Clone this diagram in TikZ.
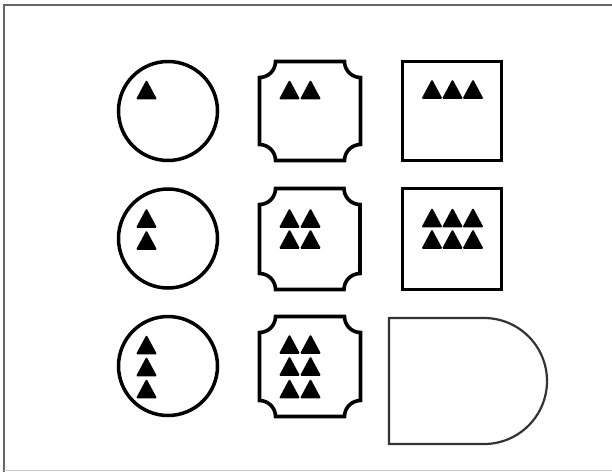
\documentclass[tikz,border=0pt]{standalone}
\usetikzlibrary{calc}
\tikzset{
  ring/.style={circle, draw=black, line width=3.5pt, inner sep=0pt, minimum size=99pt},
  notchline/.style={draw=black, line width=3.6pt},
  sqline/.style={draw=black, line width=3.5pt},
  dline/.style={draw=black!80, line width=2.2pt},
  frameline/.style={draw=black!60, line width=2pt},
  tri/.pic={\fill[black, rounded corners=1.2pt] (-10.5,9.8) -- (0,-9.8) -- (10.5,9.8) -- cycle;}
}
\newcommand\notchsq[4]{%
  \draw[notchline] ({#1+16},#2) -- ({#3-16},#2)
   .. controls ({#3-16},{#2+8.8}) and ({#3-8.8},{#2+16}) .. ({#3},{#2+16})
   -- ({#3},{#4-16})
   .. controls ({#3-8.8},{#4-16}) and ({#3-16},{#4-8.8}) .. ({#3-16},{#4})
   -- ({#1+16},{#4})
   .. controls ({#1+16},{#4-8.8}) and ({#1+8.8},{#4-16}) .. ({#1},{#4-16})
   -- ({#1},{#2+16})
   .. controls ({#1+8.8},{#2+16}) and ({#1+16},{#2+8.8}) .. cycle;}
\begin{document}
\begin{tikzpicture}[x={(1pt,0)}, y={(0,-1pt)}]
\useasboundingbox (0,0) rectangle (612,472);
\fill[white] (0,0) rectangle (612,472);
% frame
\draw[frameline] (4,472) -- (4,5) -- (612,5);
\draw[black!20, line width=0.8pt] (4,470) -- (612,470);
% column 1: circles
\node[ring] (c1) at (168,111) {};
\node[ring] (c2) at (168,238.5) {};
\node[ring] (c3) at (168,366) {};
\pic at (146.5,89.5) {tri};
\pic at (146.5,218) {tri};
\pic at (146.5,240) {tri};
\pic at (146.5,344.5) {tri};
\pic at (146.5,366.5) {tri};
\pic at (146.5,388.5) {tri};
% column 2: notched squares
\notchsq{259.5}{61.5}{360.5}{160.5}
\notchsq{259.5}{188.5}{360}{289.5}
\notchsq{259.5}{316.5}{360.5}{416.5}
\foreach \x in {289.5,310.5}{
  \pic at (\x,89.5) {tri};
  \pic at (\x,218) {tri};
  \pic at (\x,239) {tri};
  \pic at (\x,344) {tri};
  \pic at (\x,366) {tri};
  \pic at (\x,388.5) {tri};
}
% column 3: squares
\draw[sqline] (402.5,61.5) rectangle (501.5,160.5);
\draw[sqline] (402.5,188.5) rectangle (501.5,289.5);
\foreach \x in {432,452.5,473}{
  \pic at (\x,89) {tri};
  \pic at (\x,217.5) {tri};
  \pic at (\x,239) {tri};
}
% D shape
\draw[dline] (389,318) -- (484,318)
  .. controls (518.8,318) and (547,346.2) .. (547,381)
  .. controls (547,415.8) and (518.8,444) .. (484,444)
  -- (389,444) -- cycle;
\end{tikzpicture}
\end{document}
